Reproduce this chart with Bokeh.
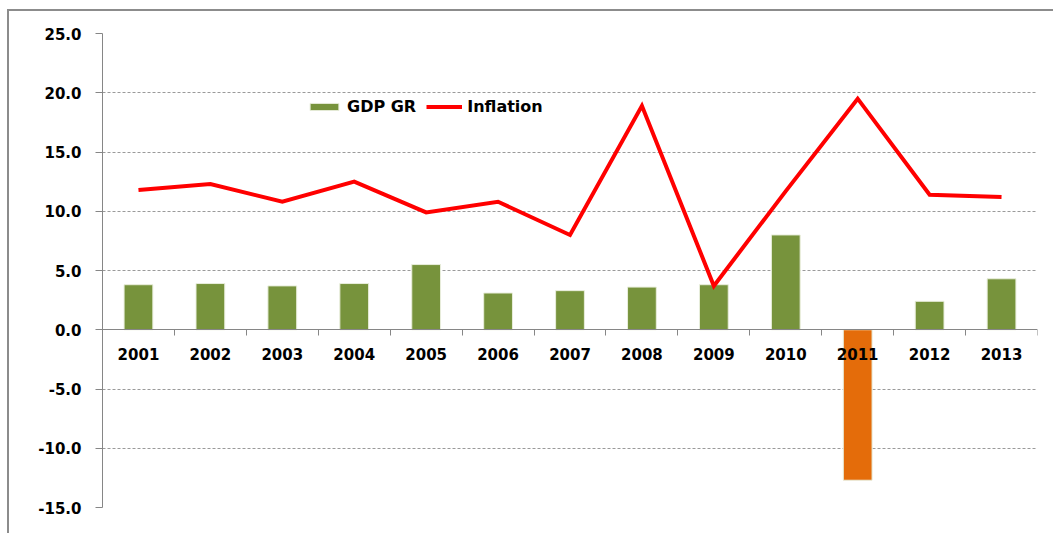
from bokeh.plotting import figure
from bokeh.models import Range1d, FixedTicker, NumeralTickFormatter, ColumnDataSource, Legend, LegendItem
from bokeh.embed import file_html
from bokeh.resources import INLINE

years = ["2001", "2002", "2003", "2004", "2005", "2006", "2007",
         "2008", "2009", "2010", "2011", "2012", "2013"]
gdp_gr = [3.8, 3.9, 3.7, 3.9, 5.5, 3.1, 3.3, 3.6, 3.8, 8.0, -12.7, 2.4, 4.3]
inflation = [11.8, 12.3, 10.8, 12.5, 9.9, 10.8, 8.0, 18.9, 3.7, 11.7, 19.5, 11.4, 11.2]
y_ticks = [-15, -10, -5, 0, 5, 10, 15, 20, 25]

GREEN = "#77933C"
ORANGE = "#E46C0A"
RED = "#FF0000"
AXIS = "#868686"
FONT = "DejaVu Sans"

xs = [i + 0.5 for i in range(len(years))]
colors = [GREEN if v >= 0 else ORANGE for v in gdp_gr]
src = ColumnDataSource(dict(x=xs, gdp=gdp_gr, inf=inflation, color=colors))

p = figure(width=1046, height=524, output_backend="svg", toolbar_location=None,
           x_range=Range1d(0, len(years)), y_range=Range1d(-15, 25),
           min_border_left=93, min_border_top=22, min_border_right=18, min_border_bottom=28)
p.styles = {"margin-left": "7px", "margin-top": "9px",
            "border-left": "2px solid #8c8c8c", "border-top": "2px solid #8c8c8c"}
p.outline_line_color = None
p.background_fill_color = "white"
p.border_fill_color = "white"

bars = p.vbar(x="x", top="gdp", bottom=0, width=0.4, source=src,
              fill_color="color", line_color="#e9eedc", line_width=1)
line = p.line(x="x", y="inf", source=src, line_color=RED, line_width=4, line_join="miter")

# y axis
yax = p.yaxis[0]
yax.ticker = FixedTicker(ticks=y_ticks)
yax.formatter = NumeralTickFormatter(format="0.0")
yax.axis_line_color = AXIS
yax.major_tick_line_color = AXIS
yax.major_tick_out = 7
yax.major_tick_in = 0
yax.minor_tick_line_color = None
yax.major_label_standoff = 14
yax.major_label_text_font = FONT
yax.major_label_text_font_style = "bold"
yax.major_label_text_font_size = "15px"
yax.major_label_text_color = "black"

# x axis at zero
xax = p.xaxis[0]
xax.fixed_location = 0
xax.ticker = FixedTicker(ticks=xs, minor_ticks=list(range(len(years) + 1)))
xax.major_label_overrides = {x: y for x, y in zip(xs, years)}
xax.axis_line_color = AXIS
xax.major_tick_line_color = None
xax.major_tick_out = 0
xax.major_tick_in = 0
xax.minor_tick_line_color = AXIS
xax.minor_tick_out = 6
xax.minor_tick_in = 0
xax.major_label_standoff = 12
xax.major_label_text_font = FONT
xax.major_label_text_font_style = "bold"
xax.major_label_text_font_size = "15px"
xax.major_label_text_color = "black"

p.xgrid.grid_line_color = None
p.ygrid.ticker = FixedTicker(ticks=y_ticks)
p.ygrid.grid_line_color = "#9a9a9a"
p.ygrid.grid_line_dash = "3 2"
p.ygrid.grid_line_width = 1

legend = Legend(items=[LegendItem(label="GDP GR", renderers=[bars]),
                       LegendItem(label="Inflation", renderers=[line])],
                orientation="horizontal", location=(204, 391),
                glyph_width=36, glyph_height=9, label_standoff=5, spacing=10,
                padding=0, margin=0, border_line_color=None, background_fill_alpha=0,
                label_text_font=FONT, label_text_font_style="bold",
                label_text_font_size="16px", label_text_color="black", label_height=18)
p.add_layout(legend, "center")

open("out.html", "w").write(file_html(p, INLINE))
